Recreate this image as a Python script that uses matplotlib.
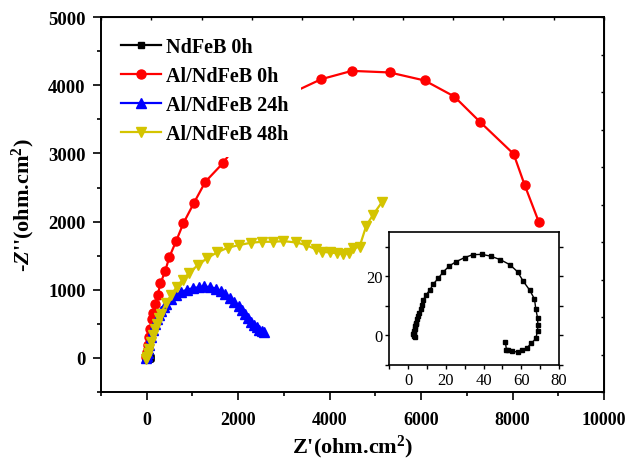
import numpy as np
import matplotlib
matplotlib.use("Agg")
import matplotlib.pyplot as plt
from matplotlib.ticker import MultipleLocator

plt.rcParams['font.family'] = ['Liberation Serif', 'DejaVu Serif']
plt.rcParams['font.weight'] = 'bold'
plt.rcParams['axes.labelweight'] = 'bold'
plt.rcParams['mathtext.fontset'] = 'custom'
plt.rcParams['mathtext.rm'] = 'Liberation Serif:bold'
plt.rcParams['mathtext.it'] = 'Liberation Serif:bold:italic'
plt.rcParams['mathtext.bf'] = 'Liberation Serif:bold'

# NdFeB 0h (also shown in the inset)
nd0_x = [3.5, 3.2, 2.8, 3.0, 3.2, 3.4, 3.6, 3.9, 4.1, 4.6, 5.2, 5.9, 6.6, 7.1, 8.0, 9.4,
         11.6, 13.3, 16.0, 18.7, 21.9, 25.4, 29.9, 34.3, 39.1, 43.7, 48.9, 53.9, 58.0,
         61.0, 64.5, 67.0, 67.7, 68.6, 68.8, 68.6, 67.7, 65.4, 63.1, 60.6, 58.3, 55.3,
         53.0, 52.1, 51.6]
nd0_y = [-0.5, -0.3, 0.3, 0.9, 1.5, 2.0, 3.2, 3.8, 4.3, 5.5, 6.6, 7.7, 8.9, 10.2, 12.0, 13.6,
         15.5, 17.4, 19.4, 21.6, 23.6, 25.0, 26.4, 27.4, 27.5, 26.9, 25.7, 24.0, 21.6,
         18.4, 15.3, 12.3, 8.9, 6.0, 3.4, 1.5, -1.1, -2.7, -4.2, -5.0, -5.7, -5.5,
         -5.1, -5.0, -2.3]

# Al/NdFeB 0h
al0_x = [-13, 0, 22, 44, 74, 110, 147, 190, 241, 300, 402, 497, 643, 803, 1035, 1284,
         1663, 2100, 2600, 3150, 3816, 4486, 5311, 6077, 6726, 7280, 8024, 8265, 8578]
al0_y = [15, 88, 185, 308, 430, 567, 666, 798, 930, 1092, 1272, 1484, 1714, 1978, 2277, 2586,
         2855, 3250, 3600, 3880, 4089, 4211, 4188, 4070, 3835, 3468, 2992, 2536, 1988]

# Al/NdFeB 24h
al24_x = [-10, 5, 20, 38, 59, 95, 131, 175, 219, 265, 315, 370, 424, 534, 643, 753, 875,
          1007, 1138, 1263, 1394, 1519, 1628, 1722, 1825, 1919, 2013, 2088, 2153, 2210,
          2284, 2335, 2407, 2451, 2516, 2569]
al24_y = [0, 30, 70, 125, 185, 300, 406, 495, 577, 630, 685, 745, 798, 871, 930, 970, 999,
          1023, 1037, 1048, 1037, 1018, 979, 940, 882, 823, 764, 700, 641, 588,
          529, 489, 450, 416, 391, 376]

# Al/NdFeB 48h
al48_x = [-5, 10, 30, 59, 95, 131, 175, 219, 265, 315, 424, 534, 656, 788, 934, 1116, 1313,
          1532, 1772, 2013, 2284, 2525, 2757, 2991, 3269, 3488, 3707, 3838, 3998, 4158,
          4289, 4420, 4508, 4654, 4801, 4945, 5151]
al48_y = [-20, 20, 70, 137, 240, 332, 420, 504, 580, 651, 813, 920, 1043, 1150, 1249, 1361, 1459,
          1547, 1616, 1655, 1690, 1704, 1704, 1713, 1694, 1655, 1591, 1557, 1547, 1537,
          1528, 1537, 1606, 1631, 1940, 2095, 2292]

labels = ['NdFeB 0h', 'Al/NdFeB 0h', 'Al/NdFeB 24h', 'Al/NdFeB 48h']
yellow = '#D4C400'

fig = plt.figure(figsize=(6.25, 4.64), dpi=100)
ax = fig.add_axes([0.1616, 0.153, 0.8048, 0.808])

ax.plot(nd0_x, nd0_y, '-s', color='black', lw=1.6, ms=5, label=labels[0])
ax.plot(al0_x, al0_y, '-o', color='red', lw=1.6, ms=6.5, label=labels[1])
ax.plot(al24_x, al24_y, '-^', color='blue', lw=1.6, ms=7, label=labels[2])
ax.plot(al48_x, al48_y, '-v', color=yellow, lw=1.6, ms=7.5, label=labels[3])

ax.set_xlim(-1000, 10000)
ax.set_ylim(-500, 5000)
ax.xaxis.set_major_locator(MultipleLocator(2000))
ax.xaxis.set_minor_locator(MultipleLocator(1000))
ax.yaxis.set_major_locator(MultipleLocator(1000))
ax.yaxis.set_minor_locator(MultipleLocator(500))
ax.tick_params(which='major', direction='out', length=6, width=1.2, labelsize=13.5)
ax.tick_params(which='minor', direction='out', length=3, width=1.2)
ax.tick_params(axis='x', which='major', pad=8, labelsize=13)
ax.tick_params(axis='y', which='major', pad=5)
for s in ax.spines.values():
    s.set_linewidth(1.4)

# small inward ticks on top and right edges
top = ax.secondary_xaxis('top')
top.set_xticks(np.linspace(-1000, 10000, 11))
top.tick_params(direction='in', length=2.5, width=1, labeltop=False)
right = ax.secondary_yaxis('right')
right.set_yticks(np.linspace(-500, 5000, 11))
right.tick_params(direction='in', length=2.5, width=1, labelright=False)

ax.set_xlabel("Z'(ohm.cm$^{2}$)", fontsize=16, fontweight='bold', labelpad=3)
ax.set_ylabel("-$Z$''(ohm.cm$^{2}$)", fontsize=16, fontweight='bold', labelpad=8)

leg = ax.legend(loc='upper left', fontsize=14.5, frameon=True, handlelength=2.0,
                handletextpad=0.25, labelspacing=0.45, borderpad=0.6, borderaxespad=0.4,
                fancybox=False)
leg.get_frame().set_edgecolor('none')
leg.get_frame().set_facecolor('white')
leg.get_frame().set_alpha(1)
for t in leg.get_texts():
    t.set_fontweight('bold')

# inset
ins = fig.add_axes([0.6229, 0.2119, 0.2715, 0.2853])
ins.plot(nd0_x, nd0_y, '-s', color='black', lw=1, ms=3)
ins.set_xlim(-10, 80)
ins.set_ylim(-10, 35)
ins.xaxis.set_major_locator(MultipleLocator(20))
ins.xaxis.set_minor_locator(MultipleLocator(10))
ins.yaxis.set_major_locator(MultipleLocator(20))
ins.yaxis.set_minor_locator(MultipleLocator(10))
ins.tick_params(which='both', direction='out', length=3, width=1, labelsize=12, pad=2)
ins.tick_params(which='both', right=True)
for t in ins.get_xticklabels() + ins.get_yticklabels():
    t.set_fontweight('normal')
for s in ins.spines.values():
    s.set_linewidth(1.2)

fig.savefig('out.png', dpi=100)
